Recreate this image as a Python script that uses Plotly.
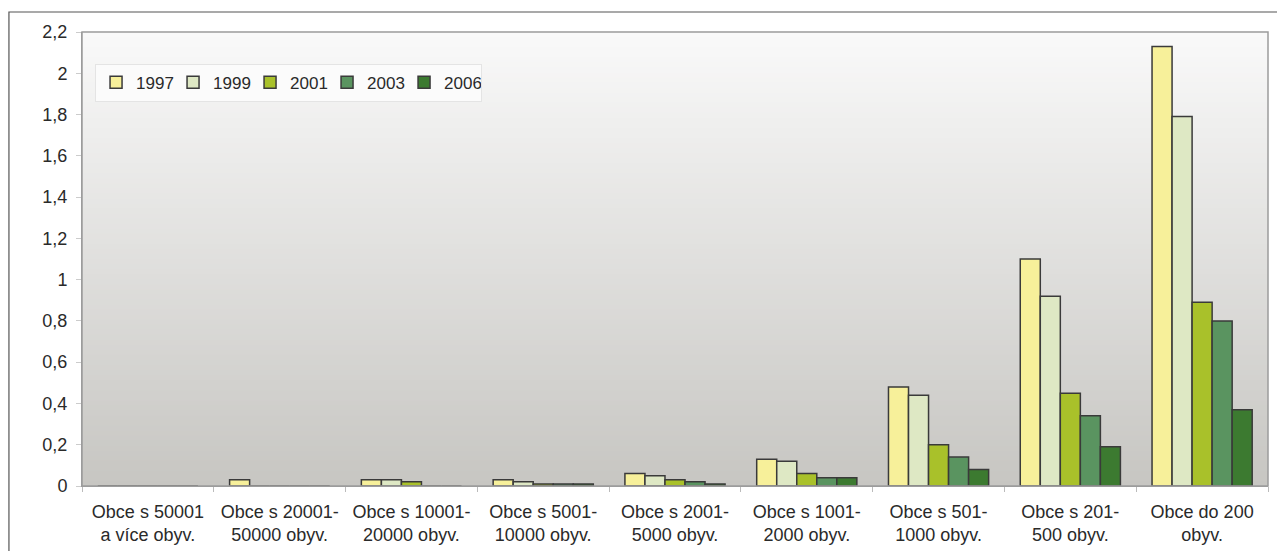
import plotly.graph_objects as go

categories = [
    "Obce s 50001<br>a více obyv.",
    "Obce s 20001-<br>50000 obyv.",
    "Obce s 10001-<br>20000 obyv.",
    "Obce s 5001-<br>10000 obyv.",
    "Obce s 2001-<br>5000 obyv.",
    "Obce s 1001-<br>2000 obyv.",
    "Obce s 501-<br>1000 obyv.",
    "Obce s 201-<br>500 obyv.",
    "Obce do 200<br>obyv.",
]
years = ["1997", "1999", "2001", "2003", "2006"]
v1997 = [0, 0.03, 0.03, 0.03, 0.06, 0.13, 0.48, 1.10, 2.13]
v1999 = [0, 0, 0.03, 0.02, 0.05, 0.12, 0.44, 0.92, 1.79]
v2001 = [0, 0, 0.02, 0.01, 0.03, 0.06, 0.20, 0.45, 0.89]
v2003 = [0, 0, 0, 0.01, 0.02, 0.04, 0.14, 0.34, 0.80]
v2006 = [0, 0, 0, 0.01, 0.01, 0.04, 0.08, 0.19, 0.37]
series = [v1997, v1999, v2001, v2003, v2006]
colors = ["#F7F09A", "#DEE8C4", "#A9C12A", "#5A9460", "#3C7A30"]

ytickvals = [0, 0.2, 0.4, 0.6, 0.8, 1, 1.2, 1.4, 1.6, 1.8, 2, 2.2]
yticktext = ["0", "0,2", "0,4", "0,6", "0,8", "1", "1,2", "1,4", "1,6", "1,8", "2", "2,2"]

fig = go.Figure()
for name, vals, col in zip(years, series, colors):
    fig.add_trace(go.Bar(
        name=name, x=categories, y=vals,
        marker=dict(color=col, line=dict(color="#3a3a3a", width=1.5)),
    ))

# gradient background for plot area
shapes = []
N = 90
top = (249, 249, 249)
bot = (199, 198, 194)
for i in range(N):
    t = i / (N - 1)
    c = tuple(int(round(bot[k] + (top[k] - bot[k]) * t)) for k in range(3))
    y0 = i / N
    y1 = (i + 1) / N
    shapes.append(dict(type="rect", xref="x domain", yref="y domain",
                       x0=0, x1=1, y0=y0, y1=y1 + 0.002,
                       fillcolor="rgb(%d,%d,%d)" % c, line=dict(width=0),
                       layer="below"))
# plot area frame
shapes.append(dict(type="rect", xref="x domain", yref="y domain",
                   x0=0, x1=1, y0=0, y1=1,
                   line=dict(color="#9c9c9c", width=1.5), layer="above"))
# outer border
shapes.append(dict(type="rect", xref="paper", yref="paper",
                   x0=-0.0616, x1=1.03, y0=-0.25, y1=1.044,
                   line=dict(color="#555555", width=1.2), layer="above"))

fig.update_layout(
    width=1277, height=543,
    margin=dict(l=74, r=17, t=24, b=65, autoexpand=False),
    paper_bgcolor="white",
    plot_bgcolor="#e0e0e0",
    barmode="group",
    bargap=0.24,
    bargroupgap=0,
    font=dict(family="Liberation Sans, Arial, sans-serif", color="#2a2a2a"),
    shapes=shapes,
    legend=dict(
        orientation="h", x=0.011, y=0.93, xanchor="left", yanchor="top",
        bgcolor="#fbfbfb", bordercolor="#e4e4e4", borderwidth=1,
        font=dict(size=17, color="#2a2a2a"),
        traceorder="normal", itemwidth=30, entrywidth=32,
    ),
    xaxis=dict(
        showgrid=False, showline=True, linecolor="#9c9c9c", linewidth=1,
        ticks="outside", tickson="boundaries", ticklen=5, tickcolor="#bbbbbb",
        tickfont=dict(size=18, color="#2a2a2a"),
        ticklabelstandoff=9, automargin=False,
    ),
    yaxis=dict(
        range=[0, 2.2], showgrid=False, zeroline=False,
        showline=True, linecolor="#9c9c9c", linewidth=1,
        ticks="outside", ticklen=5, tickcolor="#cccccc",
        tickvals=ytickvals, ticktext=yticktext,
        tickfont=dict(size=18, color="#2a2a2a"),
        ticklabelstandoff=5, automargin=False,
    ),
)

fig.write_html("out.html")
